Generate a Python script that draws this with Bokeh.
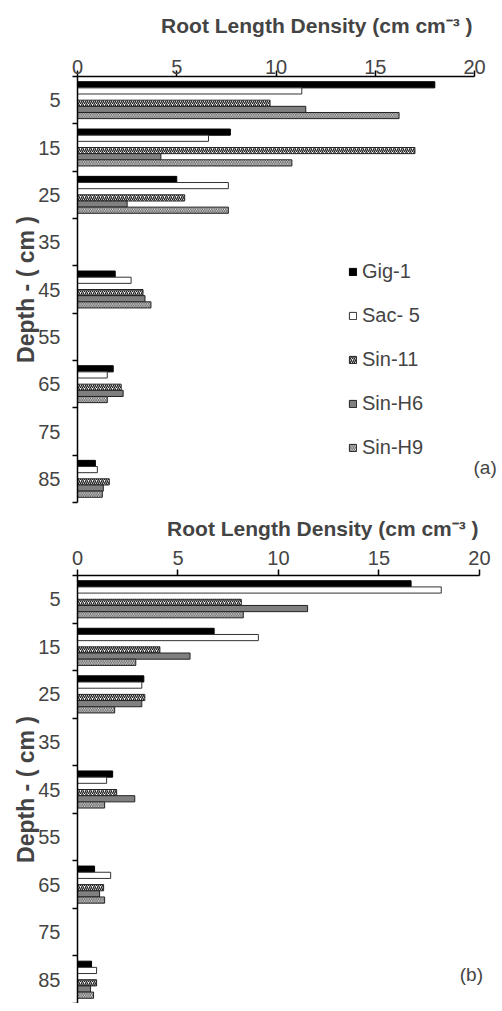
from bokeh.plotting import figure
from bokeh.models import Range1d, FixedTicker, Legend, LegendItem, Label, LinearAxis
from bokeh.layouts import column
from bokeh.embed import file_html
from bokeh.resources import INLINE

depths = ["5", "15", "25", "35", "45", "55", "65", "75", "85"]
series_names = ["Gig-1", "Sac- 5", "Sin-11", "Sin-H6", "Sin-H9"]
x_ticks = [0, 5, 10, 15, 20]
heading = "Root Length Density  (cm cm\u207b\u00b3 )"

# panel (a)
gig1_a = [18.0, 7.7, 5.0, 0, 1.9, 0, 1.8, 0, 0.9]
sac5_a = [11.3, 6.6, 7.6, 0, 2.7, 0, 1.5, 0, 1.0]
sin11_a = [9.7, 17.0, 5.4, 0, 3.3, 0, 2.2, 0, 1.6]
sinh6_a = [11.5, 4.2, 2.5, 0, 3.4, 0, 2.3, 0, 1.3]
sinh9_a = [16.2, 10.8, 7.6, 0, 3.7, 0, 1.5, 0, 1.25]

# panel (b)
gig1_b = [16.6, 6.8, 3.3, 0, 1.75, 0, 0.85, 0, 0.7]
sac5_b = [18.1, 9.0, 3.2, 0, 1.45, 0, 1.65, 0, 0.95]
sin11_b = [8.15, 4.1, 3.35, 0, 1.95, 0, 1.3, 0, 0.95]
sinh6_b = [11.45, 5.6, 3.2, 0, 2.85, 0, 1.1, 0, 0.65]
sinh9_b = [8.25, 2.9, 1.85, 0, 1.35, 0, 1.35, 0, 0.8]

FONT = "Liberation Sans"
slots = [0, 1, 3, 4, 5]
BAR_H = 0.13
styles = [
    dict(fill_color="black", line_color="black"),
    dict(fill_color="white", line_color="#333333"),
    dict(fill_color="white", line_color="#222222", hatch_pattern="right_diagonal_line",
         hatch_color="#222222", hatch_scale=4, hatch_weight=1.3),
    dict(fill_color="#808080", line_color="#222222"),
    dict(fill_color="white", line_color="#222222", hatch_pattern="left_diagonal_line",
         hatch_color="#555555", hatch_scale=3.5, hatch_weight=1),
]


def base_figure(fw, fh, x_end, left, right, top, bottom, label_standoff):
    p = figure(frame_width=fw, frame_height=fh, output_backend="svg", toolbar_location=None,
               x_range=Range1d(0, x_end), y_range=Range1d(len(depths) - 0.5, -0.5),
               x_axis_location="above", min_border_left=left, min_border_right=right,
               min_border_top=top, min_border_bottom=bottom)
    p.outline_line_color = None
    p.xgrid.grid_line_color = None
    p.ygrid.grid_line_color = None

    xa = p.xaxis[0]
    xa.ticker = FixedTicker(ticks=x_ticks)
    xa.bounds = (0, 20)
    xa.major_tick_out = 6
    xa.major_tick_in = 0
    xa.minor_tick_line_color = None
    xa.major_label_standoff = label_standoff
    xa.major_label_text_font = FONT
    xa.major_label_text_font_size = "20px"
    xa.axis_line_width = 1.5
    xa.major_tick_line_width = 1.5

    ya = p.yaxis[0]
    ya.ticker = FixedTicker(ticks=list(range(len(depths))),
                            minor_ticks=[i - 0.5 for i in range(len(depths) + 1)])
    ya.major_label_overrides = {i: d for i, d in enumerate(depths)}
    ya.major_tick_out = 0
    ya.major_tick_in = 0
    ya.minor_tick_out = 5
    ya.minor_tick_in = 0
    ya.minor_tick_line_width = 1.5
    ya.axis_line_width = 1.5
    ya.major_label_standoff = 12
    ya.major_label_text_font = FONT
    ya.major_label_text_font_size = "20px"
    ya.axis_label = "Depth - ( cm )"
    ya.axis_label_text_font = FONT
    ya.axis_label_text_font_size = "23px"
    ya.axis_label_text_font_style = "bold"
    ya.axis_label_standoff = -4
    return p


def set_title(p, fw, x_end, standoff):
    p.title.text = heading
    p.title.align = "right"
    p.title.offset = fw - 20 * fw / x_end - 5
    p.title.text_font = FONT
    p.title.text_font_size = "21px"
    p.title.text_font_style = "bold"
    p.title.standoff = standoff


def add_bars(p, series):
    items = []
    for s_idx, vals in enumerate(series):
        ys, rs = [], []
        for g, v in enumerate(vals):
            if v > 0:
                ys.append(g + (slots[s_idx] - 2.5) * BAR_H)
                rs.append(v)
        r = p.hbar(y=ys, left=0, right=rs, height=BAR_H, line_width=1, **styles[s_idx])
        items.append(LegendItem(label=series_names[s_idx], renderers=[r]))
    return items


# ---------- panel (a) ----------
FW_A, FH_A = 397, 426
pa = base_figure(FW_A, FH_A, 20, 76, 0, 76, 4, -3)
xa_a = pa.xaxis[0]
# centred axis label, shifted right by leading no-break spaces so it ends at x = 20
xa_a.axis_label = "\u00a0" * 15 + heading
xa_a.axis_label_align = "center"
xa_a.axis_label_standoff = 20
xa_a.axis_label_text_font = FONT
xa_a.axis_label_text_font_size = "21px"
xa_a.axis_label_text_font_style = "bold"

items_a = add_bars(pa, [gig1_a, sac5_a, sin11_a, sinh6_a, sinh9_a])
leg = Legend(items=items_a, location=(271, 43), glyph_width=9, glyph_height=9,
             label_text_font=FONT, label_text_font_size="20px", spacing=21,
             padding=0, margin=0, border_line_color=None, background_fill_alpha=0,
             label_standoff=5)
pa.add_layout(leg)

# panel tag "(a)" as a label-only axis on the right (pixel rows from frame top)
pa.extra_y_ranges = {"tag": Range1d(FH_A, 0)}
tag_axis = LinearAxis(y_range_name="tag", ticker=FixedTicker(ticks=[391]),
                      major_label_overrides={391: "(a)"}, axis_line_color=None,
                      major_tick_line_color=None, minor_tick_line_color=None,
                      major_tick_out=0, major_tick_in=0, major_label_standoff=-1,
                      major_label_text_font=FONT, major_label_text_font_size="19px")
pa.add_layout(tag_axis, "right")

# ---------- panel (b) ----------
FW_B, FH_B, XEND_B = 419, 428, 20.85
pb = base_figure(FW_B, FH_B, XEND_B, 77, 0, 66, 0, 5)
set_title(pb, FW_B, XEND_B, 16)
add_bars(pb, [gig1_b, sac5_b, sin11_b, sinh6_b, sinh9_b])
pb.add_layout(Label(x=19.6, y=7.9, text="(b)", text_font=FONT, text_font_size="19px",
                    text_align="center", text_baseline="middle"))

layout = column(pa, pb, spacing=0)
open("out.html", "w").write(file_html(layout, INLINE))
